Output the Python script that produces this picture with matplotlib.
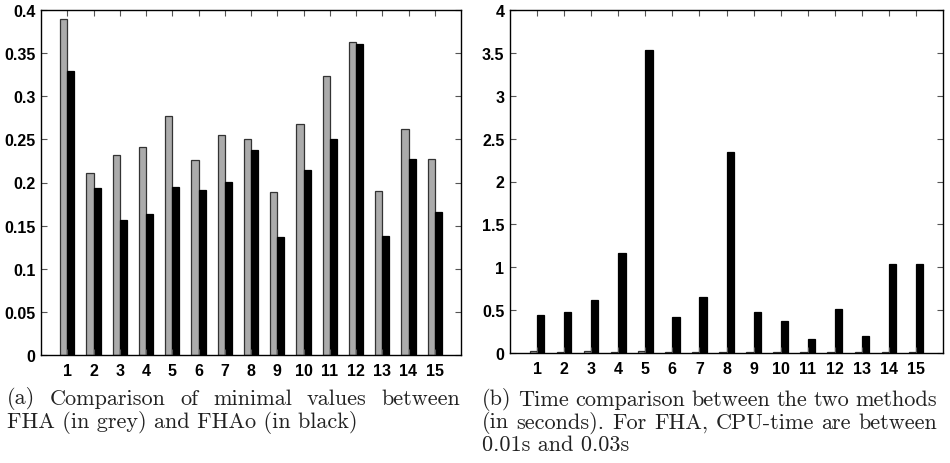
import matplotlib
matplotlib.use('Agg')
import matplotlib.pyplot as plt
from matplotlib.ticker import FormatStrFormatter
import numpy as np

# test instances 1..15
instances = list(range(1, 16))

# minimal values
fha_min = [0.390, 0.211, 0.232, 0.241, 0.277, 0.226, 0.255, 0.250, 0.189, 0.268, 0.324, 0.363, 0.190, 0.262, 0.227]
fhao_min = [0.329, 0.194, 0.156, 0.164, 0.195, 0.191, 0.201, 0.238, 0.137, 0.215, 0.250, 0.361, 0.138, 0.227, 0.166]

# CPU time in seconds
fha_time = [0.02, 0.01, 0.02, 0.01, 0.02, 0.01, 0.01, 0.01, 0.01, 0.01, 0.01, 0.01, 0.01, 0.01, 0.01]
fhao_time = [0.443, 0.482, 0.622, 1.170, 3.537, 0.420, 0.650, 2.348, 0.474, 0.373, 0.163, 0.513, 0.195, 1.041, 1.041]

caption_a = ["(a) Comparison of minimal values between",
             "FHA (in grey) and FHAo (in black)"]
caption_b = ["(b) Time comparison between the two methods",
             "(in seconds). For FHA, CPU-time are between",
             "0.01s and 0.03s"]

W, H = 950, 464
fig = plt.figure(figsize=(W / 100, H / 100), dpi=100)

GREY = '#ababab'
bw = 0.27
tick_font = dict(family='Liberation Sans', weight='bold', size=11.5)


def bar_pair(ax, a, b, ymax, step):
    x = np.array(instances)
    ax.bar(x - bw / 2, a, width=bw, color=GREY, edgecolor='#333333', linewidth=0.9)
    ax.bar(x + bw / 2, b, width=bw, color='black', edgecolor='black', linewidth=0.9)
    ax.set_xlim(0, 16)
    ax.set_ylim(0, ymax)
    ax.set_xticks(x)
    ax.set_yticks(np.arange(0, ymax + step / 2, step))
    ax.yaxis.set_major_formatter(FormatStrFormatter('%g'))
    ax.tick_params(direction='in', top=True, right=True, length=4, width=0.8,
                   color='#555555', pad=6)
    ax.tick_params(axis='y', pad=4)
    for lab in ax.get_xticklabels() + ax.get_yticklabels():
        lab.set_fontproperties(matplotlib.font_manager.FontProperties(**tick_font))
    for s in ax.spines.values():
        s.set_linewidth(1.0)
        s.set_color('black')


ax1 = fig.add_axes([41 / W, (H - 356) / H, (461 - 41) / W, (356 - 11) / H])
bar_pair(ax1, fha_min, fhao_min, 0.4, 0.05)

ax2 = fig.add_axes([510 / W, (H - 354) / H, (943 - 510) / W, (354 - 11) / H])
bar_pair(ax2, fha_time, fhao_time, 4, 0.5)

# justified captions below each panel
renderer = fig.canvas.get_renderer()
cap_font = dict(family='cmr10', size=16, color='#222222')


def caption(lines, x0, x1, ys):
    for i, (line, y) in enumerate(zip(lines, ys)):
        words = line.split(' ')
        last = i == len(lines) - 1
        if last:
            fig.text(x0 / W, 1 - y / H, line, va='center', ha='left', **cap_font)
            continue
        objs = [fig.text(0, 1 - y / H, w, va='center', ha='left', **cap_font) for w in words]
        widths = [o.get_window_extent(renderer).width for o in objs]
        gap = (x1 - x0 - sum(widths)) / (len(words) - 1)
        x = x0
        for o, w in zip(objs, widths):
            o.set_x(x / W)
            x += w + gap


caption(caption_a, 7, 460, [399, 423])
caption(caption_b, 482, 937, [400, 423, 445])

fig.savefig('out.png', dpi=100)
